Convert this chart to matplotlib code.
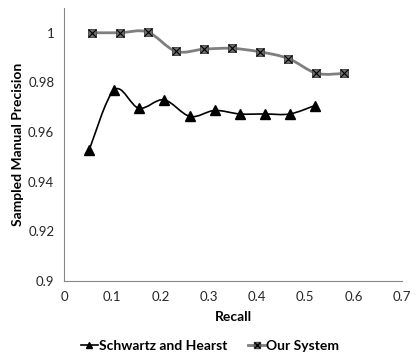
import numpy as np
import matplotlib
matplotlib.use("Agg")
from matplotlib import pyplot as plt
from matplotlib.path import Path
from matplotlib.patches import PathPatch
from matplotlib.lines import Line2D

plt.rcParams['font.family'] = ['Lato', 'DejaVu Sans']

# data
sh_recall = [0.052, 0.104, 0.155, 0.207, 0.261, 0.312, 0.364, 0.416, 0.468, 0.520]
sh_prec = [0.9528, 0.977, 0.9696, 0.973, 0.9663, 0.9687, 0.9673, 0.9673, 0.9673, 0.9707]
our_recall = [0.057, 0.116, 0.173, 0.232, 0.290, 0.348, 0.406, 0.465, 0.523, 0.581]
our_prec = [1.0, 1.0, 1.0003, 0.9925, 0.9934, 0.9937, 0.9923, 0.9896, 0.9837, 0.9836]
x_ticks = [0, 0.1, 0.2, 0.3, 0.4, 0.5, 0.6, 0.7]
y_ticks = [0.9, 0.92, 0.94, 0.96, 0.98, 1.0]
y_ticklabels = ["0.9", "0.92", "0.94", "0.96", "0.98", "1"]


def smooth_path(ax, xs, ys, t=0.5 / 3):
    # Excel-style smoothed line: cubic Bezier segments through the points
    pts = ax.transData.transform(np.column_stack([xs, ys]))
    n = len(pts)
    verts = [pts[0]]
    codes = [Path.MOVETO]
    for i in range(n - 1):
        p0 = pts[i - 1] if i > 0 else pts[i]
        p1, p2 = pts[i], pts[i + 1]
        p3 = pts[i + 2] if i + 2 < n else pts[i + 1]
        c1 = p1 + (p2 - p0) * t
        c2 = p2 - (p3 - p1) * t
        verts += [c1, c2, p2]
        codes += [Path.CURVE4] * 3
    return Path(verts, codes)


fig = plt.figure(figsize=(4.16, 3.59), dpi=100)
ax = fig.add_axes([0.154, 0.217, 0.812, 0.761])
ax.set_xlim(0, 0.7)
ax.set_ylim(0.9, 1.01)

for s in ["top", "right"]:
    ax.spines[s].set_visible(False)
for s in ["left", "bottom"]:
    ax.spines[s].set_color("#868686")
    ax.spines[s].set_linewidth(0.8)

ax.set_xticks(x_ticks)
ax.set_xticklabels([f"{v:g}" for v in x_ticks])
ax.set_yticks(y_ticks)
ax.set_yticklabels(y_ticklabels)
ax.tick_params(length=0, labelsize=9.5, colors="#262626", pad=7)
ax.set_xlabel("Recall", fontsize=10, fontweight="bold", labelpad=6)
ax.set_ylabel("Sampled Manual Precision", fontsize=10, fontweight="bold", labelpad=3)

fig.canvas.draw()
ax.add_patch(PathPatch(smooth_path(ax, our_recall, our_prec), transform=None,
                       facecolor="none", edgecolor="#7f7f7f", lw=2.0, zorder=2))
ax.add_patch(PathPatch(smooth_path(ax, sh_recall, sh_prec), transform=None,
                       facecolor="none", edgecolor="black", lw=1.2, zorder=2))

ax.plot(our_recall, our_prec, ls="none", marker="s", ms=6.3, mfc="#6e6e6e",
        mec="#4d4d4d", mew=0.7, zorder=3)
ax.plot(our_recall, our_prec, ls="none", marker="x", ms=6, mec="black",
        mew=0.8, zorder=4)
ax.plot(sh_recall, sh_prec, ls="none", marker="^", ms=7, mfc="black",
        mec="black", zorder=3)

h1 = Line2D([], [], color="black", lw=1.2, marker="^", ms=5, mfc="black")
h2 = (Line2D([], [], color="#7f7f7f", lw=2.0, marker="s", ms=5, mfc="#6e6e6e", mec="#4d4d4d"),
      Line2D([], [], ls="none", marker="x", ms=4.5, mec="black"))
fig.legend([h1, h2], ["Schwartz and Hearst", "Our System"], loc="center",
           bbox_to_anchor=(0.505, 0.036), ncol=2, frameon=False,
           prop={"weight": "bold", "size": 10}, handlelength=1.2,
           handletextpad=0.1, columnspacing=1.5)

fig.savefig("out.png", dpi=100)
